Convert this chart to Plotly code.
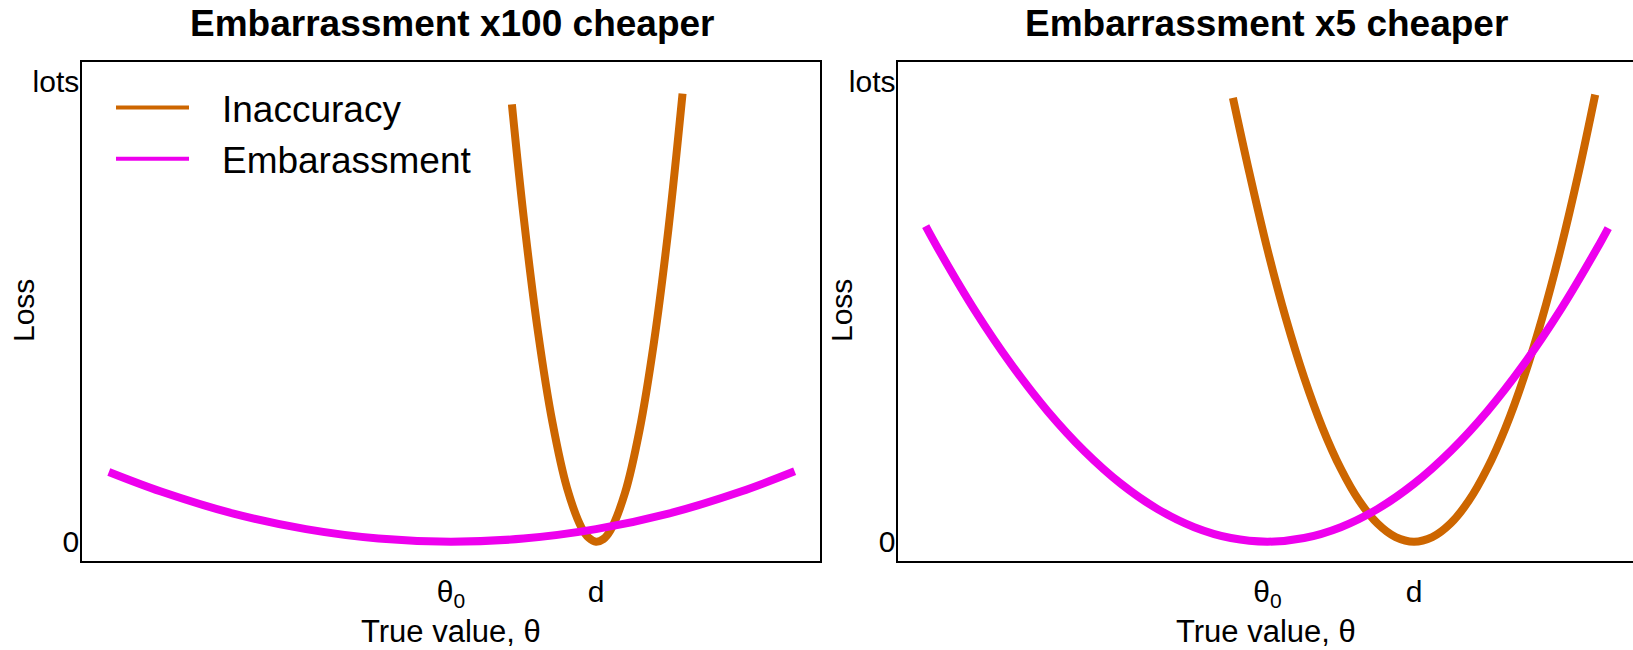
import plotly.graph_objects as go

# ---------------- data (theta0 = 0, d = 1; loss 0 .. "lots" = 100) -------------
# Left panel: "Embarrassment x100 cheaper"
left_inacc_x = [0.42, 0.5, 0.6, 0.7, 0.8, 0.9, 0.95, 1.0, 1.05, 1.1, 1.2, 1.3, 1.4, 1.5, 1.597]
left_inacc_y = [95.1, 70.9, 45.6, 25.9, 11.7, 3.07, 0.84, 0.0, 0.56, 2.5, 10.6, 24.2, 43.4, 68.1, 97.4]
left_emb_x = [-2.36, -2.0, -1.5, -1.0, -0.5, 0.0, 0.5, 1.0, 1.5, 2.0, 2.37]
left_emb_y = [15.15, 10.9, 6.1, 2.72, 0.68, 0.0, 0.68, 2.72, 6.1, 10.9, 15.3]

# Right panel: "Embarrassment x5 cheaper"
right_inacc_x = [-0.236, -0.125, 0.0, 0.125, 0.25, 0.375, 0.5, 0.625, 0.75, 0.875, 1.0,
                 1.125, 1.25, 1.375, 1.5, 1.625, 1.75, 1.875, 2.0, 2.125, 2.237]
right_inacc_y = [96.5, 80.4, 63.5, 48.6, 35.7, 24.8, 15.9, 8.93, 3.97, 0.99, 0.0,
                 0.99, 3.97, 8.93, 15.9, 24.8, 35.7, 48.6, 63.5, 80.4, 97.2]
right_emb_x = [-2.333, -2.25, -2.0, -1.75, -1.5, -1.25, -1.0, -0.75, -0.5, -0.25, 0.0,
               0.25, 0.5, 0.75, 1.0, 1.25, 1.5, 1.75, 2.0, 2.25, 2.326]
right_emb_y = [68.6, 63.8, 50.4, 38.6, 28.35, 19.7, 12.6, 7.09, 3.15, 0.79, 0.0,
               0.79, 3.15, 7.09, 12.6, 19.7, 28.35, 38.6, 50.4, 63.8, 68.2]

panel_titles = ["Embarrassment x100 cheaper", "Embarrassment x5 cheaper"]
series_names = ["Inaccuracy", "Embarassment"]
x_tickvals = [0, 1]
x_ticktext = ["θ<sub>0</sub>", "d"]
y_tickvals = [0, 100]
y_ticktext = ["0", "lots"]
x_title = "True value, θ"
y_title = "Loss"

# ---------------- style ----------------
W, H = 1633, 650
ML, MR, MT, MB = 82, 0, 62, 89
PW, PH = W - ML - MR, H - MT - MB
FONT = "Liberation Sans, Arial, Helvetica, sans-serif"
ORANGE = "#CD6600"
MAGENTA = "#EE00EE"
LW = 8
NB = "\u00a0\u2009\u00a0"


def px_x(p):
    return (p - ML) / PW


def px_y(p):
    return (H - MB - p) / PH


fig = go.Figure()

panels = [("x", "y", left_inacc_x, left_inacc_y, left_emb_x, left_emb_y),
          ("x2", "y2", right_inacc_x, right_inacc_y, right_emb_x, right_emb_y)]
for xa, ya, ix, iy, ex, ey in panels:
    fig.add_trace(go.Scatter(x=ix, y=iy, mode="lines", name=series_names[0],
                             line=dict(color=ORANGE, width=LW, shape="spline", smoothing=1.0),
                             xaxis=xa, yaxis=ya, showlegend=False))
    fig.add_trace(go.Scatter(x=ex, y=ey, mode="lines", name=series_names[1],
                             line=dict(color=MAGENTA, width=LW, shape="spline", smoothing=1.0),
                             xaxis=xa, yaxis=ya, showlegend=False))

# legend-only entries (thinner key lines, as in the reference)
for name, col in zip(series_names, [ORANGE, MAGENTA]):
    fig.add_trace(go.Scatter(x=[None], y=[None], mode="lines", name=NB + name,
                             line=dict(color=col, width=4), xaxis="x", yaxis="y",
                             showlegend=True, hoverinfo="skip"))

axis_common = dict(showgrid=False, zeroline=False, showline=True, mirror=True,
                   linecolor="black", linewidth=1.5, ticks="",
                   tickfont=dict(family=FONT, size=30, color="black"), fixedrange=True)

fig.update_layout(
    width=W, height=H,
    margin=dict(l=ML, r=MR, t=MT, b=MB, autoexpand=False),
    paper_bgcolor="white", plot_bgcolor="white",
    font=dict(family=FONT, color="black"),
    showlegend=True,
    legend=dict(x=px_x(111), y=px_y(77), xanchor="left", yanchor="top",
                font=dict(family=FONT, size=37, color="black"),
                bgcolor="rgba(0,0,0,0)", borderwidth=0, itemwidth=73,
                tracegroupgap=0),
    xaxis=dict(domain=[0, px_x(820)], range=[-2.545, 2.545], tickvals=x_tickvals,
               ticktext=x_ticktext, anchor="y", ticklabelstandoff=3, **axis_common),
    yaxis=dict(domain=[0, 1], range=[-4.2, 104.3], tickvals=y_tickvals,
               ticktext=y_ticktext, anchor="x", ticklabelstandoff=-5, **axis_common),
    xaxis2=dict(domain=[px_x(898.3), 1], range=[-2.52, 2.495], tickvals=x_tickvals,
                ticktext=x_ticktext, anchor="y2", ticklabelstandoff=3, **axis_common),
    yaxis2=dict(domain=[0, 1], range=[-4.2, 104.3], tickvals=y_tickvals,
                ticktext=y_ticktext, anchor="x2", ticklabelstandoff=-5, **axis_common),
)

annotations = []
for title, cx in zip(panel_titles, [452, 1266]):
    annotations.append(dict(text="<b>" + title + "</b>", x=px_x(cx), y=px_y(23), xref="paper", yref="paper",
                            xanchor="center", yanchor="middle", showarrow=False,
                            font=dict(family=FONT, size=37, color="black")))
for cx in [451, 1266]:
    annotations.append(dict(text=x_title, x=px_x(cx), y=px_y(631), xref="paper", yref="paper",
                            xanchor="center", yanchor="middle", showarrow=False,
                            font=dict(family=FONT, size=31, color="black")))
for cx in [23, 841]:
    annotations.append(dict(text=y_title, x=px_x(cx), y=px_y(311), xref="paper", yref="paper",
                            xanchor="center", yanchor="middle", showarrow=False, textangle=-90,
                            font=dict(family=FONT, size=30, color="black")))
fig.update_layout(annotations=annotations)

fig.write_html("out.html", config={"displayModeBar": False},
               post_script="document.body.style.margin='0px';document.body.style.overflow='hidden';")
